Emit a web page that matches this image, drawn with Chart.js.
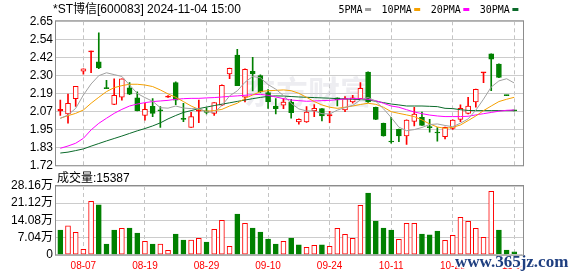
<!DOCTYPE html>
<html>
<head>
<meta charset="utf-8">
<script src="https://cdn.jsdelivr.net/npm/chart.js@4/dist/chart.umd.min.js"></script>
<style>
  body { margin: 0; background: #fff; width: 578px; height: 276px; overflow: hidden; position: relative; }
  canvas { position: absolute; left: 0; }
  #price { top: 0; }
  #vol { top: 170px; }
</style>
</head>
<body>
<canvas id="price" width="578" height="180"></canvas>
<canvas id="vol" width="578" height="106"></canvas>
<script>
const dates = ['08-02','08-05','08-06','08-07','08-08','08-09','08-12','08-13','08-14','08-15','08-16','08-19','08-20','08-21','08-22','08-23','08-26','08-27','08-28','08-29','08-30',
  '09-02','09-03','09-04','09-05','09-06','09-09','09-10','09-11','09-12','09-13','09-18','09-19','09-20','09-23','09-24','09-25','09-26','09-27','09-30',
  '10-08','10-09','10-10','10-11','10-14','10-15','10-16','10-17','10-18','10-21','10-22','10-23','10-24','10-25','10-28','10-29','10-30','10-31',
  '11-01','11-04'];
const opens  = [2.07,2.05,2.15,2.33,2.455,2.39,2.22,2.113,2.16,2.22,2.155,2.04,2.10,2.075,2.16,2.255,2.02,1.963,2.068,2.07,2.054,
  2.107,2.311,2.435,2.159,2.329,2.30,2.19,2.102,2.107,2.128,1.998,1.998,2.072,2.085,2.037,2.155,2.076,2.128,2.15,
  2.324,2.094,1.989,1.87,1.95,1.906,2.002,2.028,1.963,1.928,1.902,1.956,2.015,2.054,2.128,2.318,2.442,2.376,2.174,2.075];
const highs  = [2.14,2.18,2.23,2.345,2.46,2.58,2.27,2.28,2.28,2.255,2.194,2.12,2.15,2.098,2.17,2.26,2.12,2.06,2.14,2.09,2.125,
  2.24,2.35,2.472,2.345,2.42,2.305,2.21,2.15,2.15,2.146,2.018,2.098,2.111,2.086,2.068,2.156,2.163,2.172,2.255,
  2.325,2.095,1.99,2.028,1.952,2.012,2.094,2.063,2.015,1.961,1.965,2.012,2.109,2.159,2.213,2.322,2.443,2.378,2.174,2.076];
const lows   = [2.04,1.99,2.10,2.31,2.32,2.345,2.215,2.11,2.14,2.176,2.07,2.01,2.033,1.963,2.158,2.11,2.0,1.963,1.993,2.05,2.04,
  2.105,2.28,2.235,2.128,2.20,2.19,2.087,2.05,2.085,2.022,1.983,1.995,2.033,2.004,1.993,2.102,2.065,2.12,2.148,
  2.125,2.013,1.905,1.859,1.869,1.852,1.972,1.975,1.932,1.872,1.887,1.95,2.0,2.05,2.094,2.255,2.202,2.287,2.170,2.07];
const closes = [2.08,2.12,2.23,2.345,2.46,2.35,2.215,2.172,2.28,2.18,2.072,2.08,2.054,2.07,2.165,2.14,2.015,2.033,2.072,2.06,2.124,
  2.237,2.348,2.235,2.342,2.311,2.194,2.13,2.085,2.128,2.059,2.015,2.063,2.087,2.037,2.046,2.141,2.15,2.155,2.218,
  2.128,2.015,1.906,1.867,1.906,2.011,2.05,1.976,1.961,1.926,1.963,2.011,2.087,2.102,2.211,2.322,2.407,2.289,2.170,2.07];
// volume in 万
const volumes = [10.1,11.8,9.2,2.2,21.9,20.4,4.4,10.1,10.8,10.9,8.9,5.5,4.4,4.4,1.8,8.5,6.0,6.0,6.7,5.2,10.4,
  14.1,3.4,16.7,12.9,10.9,9.3,6.4,4.4,5.5,6.8,4.0,3.0,3.8,4.0,3.4,10.8,8.3,6.7,20.2,
  25.3,13.8,10.9,10.1,6.3,12.9,12.9,8.5,8.1,9.7,5.9,7.9,15.3,13.7,10.8,7.1,26.0,10.1,1.9,1.2];
const volUp = [0,1,1,1,1,0,0,0,1,0,0,1,0,1,1,0,0,1,1,0,1,
  1,1,0,1,0,0,0,0,1,0,0,1,1,0,1,1,1,1,1,
  0,0,0,0,1,1,1,0,0,0,1,1,1,1,1,1,1,0,0,0];
const ma5  = [2.022,2.043,2.087,2.174,2.246,2.300,2.319,2.307,2.295,2.239,2.184,2.157,2.133,2.091,2.088,2.102,2.089,2.085,2.085,2.064,2.061,
  2.105,2.168,2.201,2.257,2.295,2.286,2.242,2.212,2.170,2.119,2.083,2.070,2.070,2.052,2.050,2.075,2.092,2.106,2.142,
  2.158,2.133,2.084,2.027,1.964,1.941,1.948,1.962,1.981,1.985,1.975,1.967,1.990,2.018,2.075,2.147,2.226,2.266,2.280,2.252];
const ma10 = [2.022,2.039,2.054,2.076,2.120,2.159,2.196,2.222,2.235,2.244,2.244,2.239,2.229,2.207,2.181,2.159,2.131,2.102,2.080,2.068,2.072,
  2.080,2.102,2.120,2.152,2.174,2.196,2.202,2.204,2.207,2.202,2.185,2.159,2.131,2.109,2.094,2.087,2.094,2.102,2.112,
  2.120,2.113,2.094,2.065,2.054,2.044,2.033,2.011,1.985,1.965,1.956,1.963,1.978,2.007,2.037,2.072,2.102,2.131,2.146,2.159];
const ma20 = [1.826,1.841,1.859,1.891,1.946,1.989,2.022,2.054,2.080,2.102,2.115,2.124,2.131,2.135,2.139,2.146,2.150,2.152,2.152,2.155,2.157,
  2.161,2.165,2.168,2.172,2.176,2.178,2.172,2.161,2.150,2.141,2.137,2.133,2.135,2.137,2.139,2.143,2.148,2.150,2.150,
  2.146,2.137,2.120,2.102,2.094,2.078,2.063,2.052,2.043,2.037,2.033,2.033,2.033,2.035,2.044,2.052,2.060,2.068,2.074,2.076];
const ma30 = [1.795,1.801,1.811,1.822,1.840,1.857,1.874,1.890,1.906,1.923,1.940,1.955,1.972,1.992,2.018,2.040,2.060,2.072,2.085,2.095,2.105,
  2.114,2.123,2.132,2.141,2.150,2.158,2.165,2.168,2.167,2.164,2.161,2.159,2.157,2.155,2.153,2.150,2.148,2.146,2.144,
  2.141,2.133,2.124,2.115,2.109,2.102,2.102,2.102,2.100,2.098,2.087,2.085,2.078,2.073,2.072,2.072,2.072,2.072,2.072,2.072];
const maNames = ['5PMA','10PMA','20PMA','30PMA'];
const priceTicks = ['1.72','1.83','1.95','2.07','2.19','2.30','2.42','2.54','2.65'];
const volTicks = ['0','7.04万','14.08万','21.12万','28.16万'];
const dateTicks = ['08-07','08-19','08-29','09-10','09-24','10-11','10-23','11-04'];
const title = '*ST博信[600083] 2024-11-04 15:00';
const volLabel = '成交量:15387';

const RED = '#ff0000';
const GREEN = '#008000';
const maColors = ['#a0a0a0','#f5a000','#ff00ff','#0a6a2a'];
const P_MIN = 1.715, P_MAX = 2.655, V_MAX = 28.16;
const X_MIN = -0.56, X_MAX = 60.13;
const FONT = '"Liberation Sans", Arial, "Noto Sans CJK SC", sans-serif';

Chart.defaults.font.family = FONT;
Chart.defaults.color = '#000';

const idx = dates.map((d, i) => i);
const tickIdx = dateTicks.map(d => dates.indexOf(d));
const up = i => closes[i] >= opens[i];

const frame = {
  id: 'frame',
  afterDraw(chart) {
    const { ctx, chartArea: a } = chart;
    ctx.save();
    ctx.strokeStyle = '#8c8c8c';
    ctx.lineWidth = 1;
    ctx.strokeRect(a.left - 0.5, a.top - 0.5, a.right - a.left + 1, a.bottom - a.top + 1);
    ctx.restore();
  }
};

const priceText = {
  id: 'priceText',
  beforeDatasetsDraw(chart) {
    const ctx = chart.ctx;
    ctx.save();
    ctx.font = 'bold 32px "Noto Sans CJK SC"';
    ctx.fillStyle = 'rgba(215,215,225,0.45)';
    ctx.fillText('东方财富', 244, 104);
    ctx.restore();
  },
  afterDraw(chart) {
    const ctx = chart.ctx;
    ctx.save();
    ctx.fillStyle = '#000';
    ctx.font = '12px ' + FONT;
    ctx.fillText(title, 53, 12.5);
    ctx.font = '10px "DejaVu Sans Mono"';
    let x = 338.5;
    maNames.forEach((n, k) => {
      ctx.fillStyle = '#000';
      ctx.fillText(n, x, 12.5);
      x += ctx.measureText(n).width + 2.5;
      ctx.fillStyle = maColors[k];
      ctx.fillRect(x, 8, 6, 3);
      x += 6 + 10.5;
    });
    ctx.restore();
  }
};

const volText = {
  id: 'volText',
  afterDraw(chart) {
    const ctx = chart.ctx;
    ctx.save();
    ctx.fillStyle = '#000';
    ctx.font = '12px ' + FONT;
    ctx.fillText(volLabel, 57, 11.5);
    ctx.font = 'bold 17px "Liberation Serif"';
    ctx.lineWidth = 3;
    ctx.strokeStyle = '#fff';
    ctx.strokeText('www.365jz.com', 455, 97);
    ctx.fillStyle = '#1f3f80';
    ctx.fillText('www.365jz.com', 455, 97);
    ctx.restore();
  }
};

const xScale = (extra) => Object.assign({
  type: 'linear',
  min: X_MIN,
  max: X_MAX,
  offset: false,
  afterBuildTicks: s => { s.ticks = tickIdx.map(v => ({ value: v })); },
  grid: { color: '#c4c4c4', drawTicks: false, offset: false },
  border: { display: false, dash: [4, 3] }
}, extra);

const maSets = [ma5, ma10, ma20, ma30].map((arr, k) => ({
  type: 'line',
  label: maNames[k],
  data: idx.map(i => ({ x: i, y: arr[i] })),
  borderColor: maColors[k],
  borderWidth: 1,
  pointRadius: 0,
  tension: 0,
  order: 0
}));

new Chart(document.getElementById('price'), {
  type: 'bar',
  data: {
    datasets: [
      ...maSets,
      {
        label: 'body',
        data: idx.map(i => ({ x: i, y: [opens[i], closes[i]] })),
        backgroundColor: idx.map(i => up(i) ? (Math.abs(closes[i] - opens[i]) < 0.012 ? RED : '#fff') : GREEN),
        borderColor: idx.map(i => up(i) ? RED : GREEN),
        borderWidth: 1,
        borderSkipped: false,
        barThickness: 5,
        minBarLength: 1,
        grouped: false,
        order: 1
      },
      {
        label: 'wick',
        data: idx.map(i => ({ x: i, y: [lows[i], highs[i]] })),
        backgroundColor: idx.map(i => up(i) ? RED : GREEN),
        barThickness: 1,
        grouped: false,
        order: 2
      }
    ]
  },
  options: {
    responsive: false,
    animation: false,
    events: [],
    layout: { padding: { top: 21.3, right: 55, bottom: 14.7, left: 0 } },
    plugins: { legend: { display: false }, tooltip: { enabled: false } },
    scales: {
      x: xScale({ ticks: { display: false }, afterFit: s => { s.height = 0; } }),
      y: {
        type: 'linear',
        min: P_MIN,
        max: P_MAX,
        afterBuildTicks: s => { s.ticks = priceTicks.map((t, k) => ({ value: P_MIN + k * (P_MAX - P_MIN) / (priceTicks.length - 1) })); },
        afterFit: s => { s.width = 56; },
        ticks: { callback: (v, k) => priceTicks[k], font: { size: 12 }, padding: 3, color: '#000', autoSkip: false },
        grid: { color: '#cccccc', drawTicks: false },
        border: { display: false }
      }
    }
  },
  plugins: [priceText, frame]
});

new Chart(document.getElementById('vol'), {
  type: 'bar',
  data: {
    datasets: [{
      label: 'vol',
      data: idx.map(i => ({ x: i, y: volumes[i] })),
      backgroundColor: idx.map(i => volUp[i] ? '#fff' : GREEN),
      borderColor: idx.map(i => volUp[i] ? RED : GREEN),
      borderWidth: 1,
      borderSkipped: false,
      barThickness: 5,
      grouped: false
    }]
  },
  options: {
    responsive: false,
    animation: false,
    events: [],
    layout: { padding: { top: 16, right: 55, bottom: 5.3, left: 0 } },
    plugins: { legend: { display: false }, tooltip: { enabled: false } },
    scales: {
      x: xScale({
        afterFit: s => { s.height = 16; },
        ticks: { callback: (v, k) => dateTicks[k], color: RED, font: { size: 10 }, padding: 6, maxRotation: 0, autoSkip: false }
      }),
      y: {
        type: 'linear',
        min: 0,
        max: V_MAX,
        afterBuildTicks: s => { s.ticks = volTicks.map((t, k) => ({ value: k * V_MAX / (volTicks.length - 1) })); },
        afterFit: s => { s.width = 56; },
        ticks: { callback: (v, k) => volTicks[k], font: { size: 12 }, padding: 3, color: '#000', autoSkip: false },
        grid: { color: '#cccccc', drawTicks: false },
        border: { display: false }
      }
    }
  },
  plugins: [volText, frame]
});
</script>
</body>
</html>
